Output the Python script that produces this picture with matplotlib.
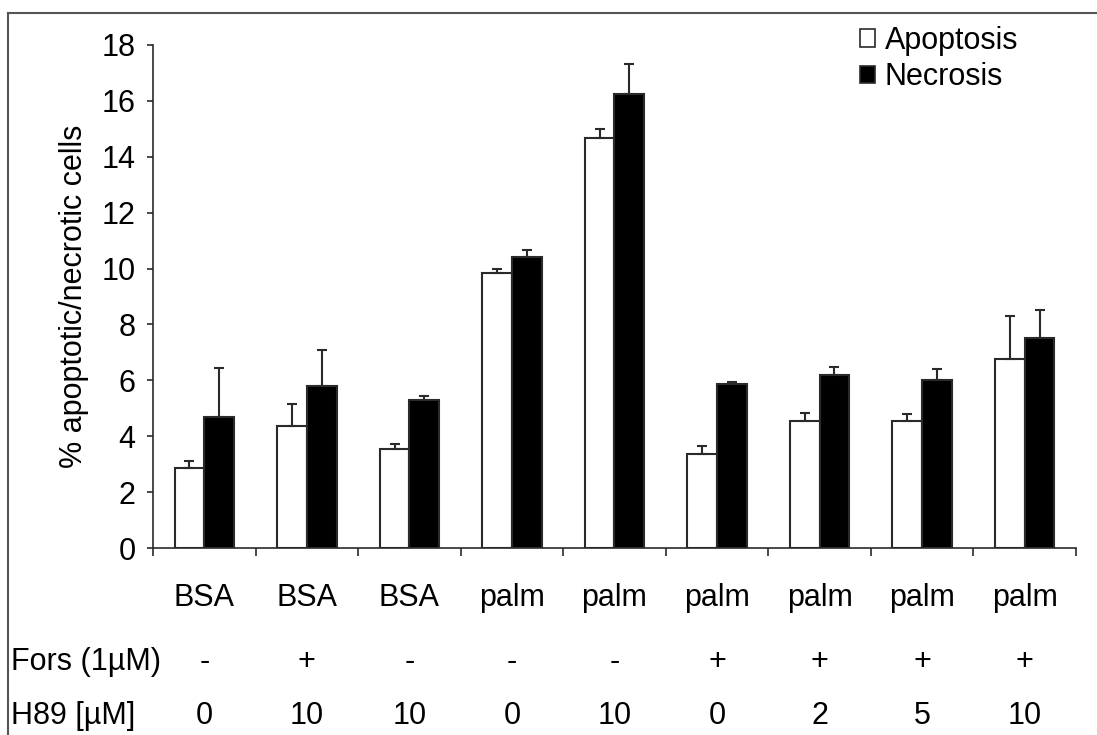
import matplotlib
matplotlib.use("Agg")
import matplotlib.pyplot as plt
import numpy as np
from matplotlib.lines import Line2D
from matplotlib.patches import Patch
from matplotlib.transforms import blended_transform_factory

categories = ["BSA", "BSA", "BSA", "palm", "palm", "palm", "palm", "palm", "palm"]
fors = ["-", "+", "-", "-", "-", "+", "+", "+", "+"]
h89 = ["0", "10", "10", "0", "10", "0", "2", "5", "10"]
apoptosis = [2.87, 4.38, 3.55, 9.85, 14.66, 3.37, 4.55, 4.55, 6.75]
apoptosis_err = [0.25, 0.79, 0.17, 0.13, 0.33, 0.27, 0.27, 0.25, 1.54]
necrosis = [4.68, 5.79, 5.31, 10.40, 16.25, 5.86, 6.18, 6.02, 7.51]
necrosis_err = [1.76, 1.29, 0.14, 0.27, 1.06, 0.08, 0.29, 0.40, 1.01]

plt.rcParams['font.family'] = ['Liberation Sans', 'DejaVu Sans']
FS = 22

W, H = 1097, 735
fig = plt.figure(figsize=(W / 100, H / 100), dpi=100)
ax = fig.add_axes([153 / W, 1 - 548 / H, (1076 - 153) / W, (548 - 45) / H])

x = np.arange(len(categories))
bw = 0.29
edge = '#2a2a2a'
ax.bar(x - bw / 2, apoptosis, bw, color='white', edgecolor=edge, linewidth=1.5, zorder=2)
ax.bar(x + bw / 2, necrosis, bw, color='black', edgecolor=edge, linewidth=1.5, zorder=2)
z = np.zeros(len(x))
ax.errorbar(x - bw / 2, apoptosis, yerr=[z, apoptosis_err], fmt='none', ecolor=edge,
            elinewidth=1.5, capsize=3.6, capthick=1.5, zorder=3)
ax.errorbar(x + bw / 2, necrosis, yerr=[z, necrosis_err], fmt='none', ecolor=edge,
            elinewidth=1.5, capsize=3.6, capthick=1.5, zorder=3)

ax.set_xlim(-0.5, len(x) - 0.5)
ax.set_ylim(0, 18)
ax.set_yticks(np.arange(0, 19, 2))
ax.set_yticklabels([str(v) for v in range(0, 19, 2)], fontsize=FS)
ax.set_xticks(np.arange(-0.5, len(x), 1.0))
ax.set_xticklabels([])
ax.tick_params(axis='x', direction='out', length=6, width=1.2, color=edge)
ax.tick_params(axis='y', direction='out', length=4.5, width=1.2, color=edge, pad=8)
for s in ['top', 'right']:
    ax.spines[s].set_visible(False)
for s in ['left', 'bottom']:
    ax.spines[s].set_color(edge)
    ax.spines[s].set_linewidth(1.2)

ax.set_ylabel("% apoptotic/necrotic cells", fontsize=FS, labelpad=9)

trans = blended_transform_factory(ax.transData, fig.transFigure)
for i in range(len(x)):
    ax.text(x[i], 1 - 598 / H, categories[i], transform=trans, ha='center', va='center', fontsize=FS)
    ax.text(x[i], 1 - 662 / H, fors[i], transform=trans, ha='center', va='center', fontsize=FS)
    ax.text(x[i], 1 - 716 / H, h89[i], transform=trans, ha='center', va='center', fontsize=FS)
fig.text(11 / W, 1 - 662 / H, "Fors (1µM)", ha='left', va='center', fontsize=FS)
fig.text(11 / W, 1 - 716 / H, "H89 [µM]", ha='left', va='center', fontsize=FS)

handles = [Patch(facecolor='white', edgecolor=edge, linewidth=1.2, label='Apoptosis'),
           Patch(facecolor='black', edgecolor=edge, linewidth=1.2, label='Necrosis')]
fig.legend(handles=handles, loc='upper left', bbox_to_anchor=(860 / W, 1 - 26 / H),
           frameon=False, fontsize=FS, handlelength=0.5, handleheight=0.5,
           handletextpad=0.3, labelspacing=0.2, borderpad=0, borderaxespad=0)

fig.add_artist(Line2D([8 / W, 8 / W], [0, 1 - 13 / H], color='#555555', linewidth=1.5))
fig.add_artist(Line2D([8 / W, 1], [1 - 13 / H, 1 - 13 / H], color='#555555', linewidth=1.5))

fig.savefig("out.png", dpi=100)
